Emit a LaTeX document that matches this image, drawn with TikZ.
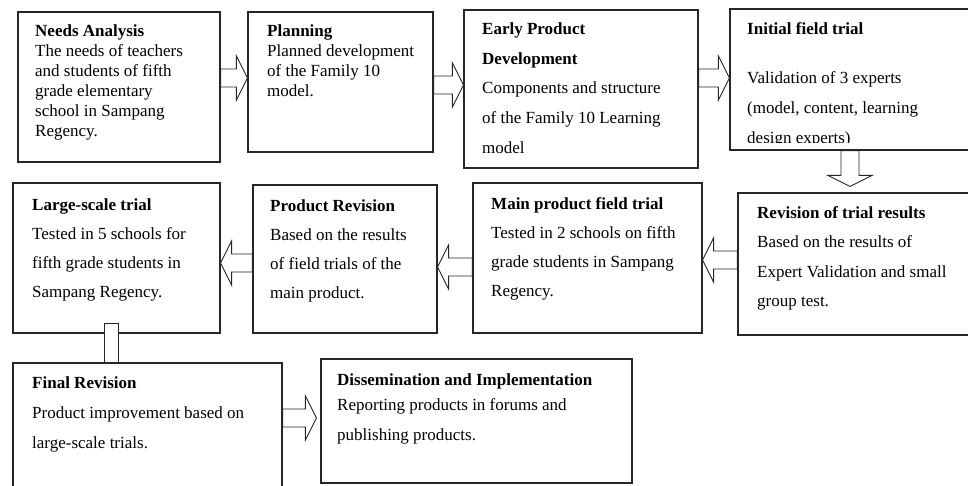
\documentclass[tikz,border=0pt]{standalone}
\usepackage{fontspec}
\setmainfont{Liberation Serif}
\usetikzlibrary{calc}

\tikzset{
  stage/.style={draw=black!85, line width=1.2pt},
  txt/.style={anchor=north west, inner sep=0pt, align=left, font=\fontsize{17pt}{#1}\selectfont},
  txt/.default=30pt,
  blockarrow/.style args={#1/#2/#3}{draw=black!85, fill=white, line width=0.9pt, line join=miter,
    to path={($(\tikztostart)!#1!90:(\tikztotarget)$)
      -- ($(\tikztotarget)!#3!(\tikztostart)!#1!90:(\tikztotarget)$)
      -- ($(\tikztotarget)!#3!(\tikztostart)!#2!90:(\tikztotarget)$)
      -- (\tikztotarget)
      -- ($(\tikztotarget)!#3!(\tikztostart)!#2!-90:(\tikztotarget)$)
      -- ($(\tikztotarget)!#3!(\tikztostart)!#1!-90:(\tikztotarget)$)
      -- ($(\tikztostart)!#1!-90:(\tikztotarget)$) -- cycle}},
  flow/.style={blockarrow=9pt/22pt/11pt}
}

\begin{document}
\begin{tikzpicture}[x=1pt, y=-1pt]
\useasboundingbox (0,0) rectangle (968,485);

% first row
\node[stage, minimum width=202, minimum height=150] (needs) at (119,87) {};
\node[stage, minimum width=185, minimum height=140] (plan) at (340.5,82) {};
\node[stage, minimum width=234, minimum height=158] (early) at (581,89) {};
\node[stage, minimum width=240, minimum height=141] (init) at (850,79.5) {};

% second row, right to left
\node[stage, minimum width=232, minimum height=142] (revis) at (854,264) {};
\node[stage, minimum width=229, minimum height=150] (main) at (587.5,258) {};
\node[stage, minimum width=184, minimum height=148] (prodrev) at (345,259) {};
\node[stage, minimum width=207, minimum height=150] (large) at (116.5,258) {};

% last row
\node[stage, minimum width=269, minimum height=125] (final) at (147.5,425.5) {};
\node[stage, minimum width=311, minimum height=124] (dissem) at (476.5,421) {};

% texts
\node[txt=20pt] (needs-t) at (35,25) {\textbf{Needs Analysis}\\The needs of teachers\\and students of fifth\\grade elementary\\school in Sampang\\Regency.};
\node[txt=20pt] (plan-t) at (267,25) {\textbf{Planning}\\Planned development\\of the Family 10\\model.};
\node[txt=29.5pt] (early-t) at (482,23) {\textbf{Early Product}\\\textbf{Development}\\Components and structure\\of the Family 10 Learning\\model};
\begin{scope}
  \clip (init.north west) rectangle ($(init.south east)+(0,-8)$);
  \node[txt] (init-t) at (747,22) {\textbf{Initial field trial}\\[19pt]Validation of 3 experts\\(model, content, learning\\design experts)};
\end{scope}
\node[txt=29.5pt] (revis-t) at (757,206) {\textbf{Revision of trial results}\\Based on the results of\\Expert Validation and small\\group test.};
\node[txt=29pt] (main-t) at (491,197) {\textbf{Main product field trial}\\Tested in 2 schools on fifth\\grade students in Sampang\\Regency.};
\node[txt=29pt] (prodrev-t) at (270,199) {\textbf{Product Revision}\\Based on the results\\of field trials of the\\main product.};
\node[txt=29.3pt] (large-t) at (32,198) {\textbf{Large-scale trial}\\Tested in 5 schools for\\fifth grade students in\\Sampang Regency.};
\node[txt] (final-t) at (32,376) {\textbf{Final Revision}\\Product improvement based on\\large-scale trials.};
\node[txt] (dissem-t) at (337,373) {\textbf{Dissemination and Implementation}\\[-5pt]Reporting products in forums and\\publishing products.};

% arrow ends
\coordinate (a1) at (needs.east |- 0,78);
\coordinate (b1) at (plan.west |- 0,78);
\coordinate (a2) at (plan.east |- 0,85);
\coordinate (b2) at (early.west |- 0,85);
\coordinate (a3) at (early.east |- 0,78);
\coordinate (b3) at (init.west |- 0,78);
\coordinate (a4) at (init.south);
\coordinate (b4) at ($(init.south |- revis.north)+(0,-6)$);
\coordinate (a5) at (revis.west |- 0,260);
\coordinate (b5) at (main.east |- 0,260);
\coordinate (a6) at (main.west |- 0,267);
\coordinate (b6) at (prodrev.east |- 0,267);
\coordinate (a7) at (prodrev.west |- 0,263);
\coordinate (b7) at (large.east |- 0,263);
\coordinate (a8) at (final.east |- 0,418);
\coordinate (b8) at ($(dissem.west |- 0,418)+(-4,0)$);

\foreach \s/\t in {a1/b1, a2/b2, a3/b3, a4/b4, a5/b5, a6/b6, a7/b7, a8/b8}
  \draw[flow] (\s) to (\t);

% plain link down to the final revision
\draw[draw=black!85, fill=white, line width=0.9pt] ($(large.south)+(-12.5,-10)$) rectangle ($(large.south |- final.north)+(1.5,0)$);
\end{tikzpicture}
\end{document}
